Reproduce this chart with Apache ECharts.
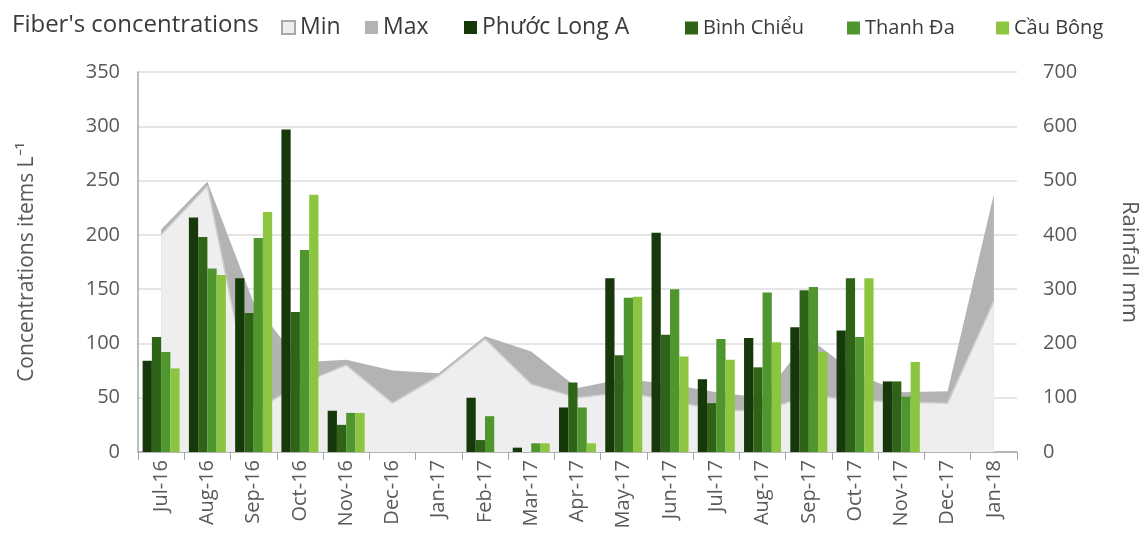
<!DOCTYPE html>
<html>
<head>
<meta charset="utf-8">
<script src="https://cdn.jsdelivr.net/npm/echarts@6/dist/echarts.min.js"></script>
<style>
  html, body { margin: 0; padding: 0; background: #fff; }
  #chart { width: 1148px; height: 547px; }
</style>
</head>
<body>
<div id="chart"></div>
<script>
// months
var months = ['Jul-16','Aug-16','Sep-16','Oct-16','Nov-16','Dec-16','Jan-17','Feb-17','Mar-17','Apr-17',
              'May-17','Jun-17','Jul-17','Aug-17','Sep-17','Oct-17','Nov-17','Dec-17','Jan-18'];

// rainfall (mm), right axis
var rainMax = [410, 498, 275, 165, 170, 150, 145, 213, 185, 118, 135, 125, 110, 100, 210, 145, 110, 112, 475];
var rainMin = [400, 490, 75, 125, 160, 90, 140, 208, 125, 100, 110, 95, 78, 75, 105, 95, 92, 90, 278];

// fiber concentrations (items/L), left axis
var phuocLongA = [84, 216, 160, 297, 38, null, null, 50, 4, 41, 160, 202, 67, 105, 115, 112, 65, null, null];
var binhChieu  = [106, 198, 128, 129, 25, null, null, 11, 0, 64, 89, 108, 45, 78, 149, 160, 65, null, null];
var thanhDa    = [92, 169, 197, 186, 36, null, null, 33, 8, 41, 142, 150, 104, 147, 152, 106, 51, null, null];
var cauBong    = [77, 163, 221, 237, 36, null, null, 0, 8, 8, 143, 88, 85, 101, 92, 160, 83, null, null];

var leftTicks = [0, 50, 100, 150, 200, 250, 300, 350];
var rightTicks = [0, 100, 200, 300, 400, 500, 600, 700];

var FONT = 'Open Sans';
var txt = '#595959';

var myChart = echarts.init(document.getElementById('chart'));

function barSeries(name, color, data) {
    return {
        name: name,
        type: 'bar',
        yAxisIndex: 0,
        barGap: '0%',
        barCategoryGap: '20%',
        itemStyle: { color: color },
        data: data,
        z: 5
    };
}

// one legend per item so each sits where it does in the original
function legendAt(name, left, size, top) {
    return {
        data: [{ name: name, icon: 'rect' }],
        left: left,
        top: top,
        itemWidth: 13,
        itemHeight: 13,
        padding: 0,
        textStyle: { fontFamily: FONT, fontSize: size, color: '#3a3a3a' }
    };
}

var option = {
    animation: false,
    backgroundColor: '#fff',
    title: {
        text: "Fiber's concentrations",
        left: 12,
        top: 13,
        padding: 0,
        textStyle: { fontFamily: FONT, fontSize: 24, fontWeight: 'normal', color: '#3a3a3a' }
    },
    legend: [
        legendAt('Min', 281, 23, 16),
        legendAt('Max', 365, 23, 16),
        legendAt('Phước Long A', 464, 23, 16),
        legendAt('Bình Chiểu', 685, 20, 18),
        legendAt('Thanh Đa', 847, 20, 18),
        legendAt('Cầu Bông', 996, 20, 18)
    ],
    grid: { left: 138, right: 126, top: 72, bottom: 95 },
    xAxis: {
        type: 'category',
        data: months,
        boundaryGap: true,
        axisLine: { lineStyle: { color: '#a6a6a6', width: 1.5 } },
        axisTick: { show: true, length: 8, lineStyle: { color: '#a6a6a6' } },
        axisLabel: {
            rotate: 90, interval: 0, margin: 8,
            fontFamily: FONT, fontSize: 20, color: txt
        }
    },
    yAxis: [
        {
            type: 'value',
            min: 0, max: 350, interval: 50,
            name: 'Concentrations items L⁻¹',
            nameLocation: 'middle',
            nameRotate: 90,
            nameGap: 100,
            nameTextStyle: { fontFamily: FONT, fontSize: 21, color: txt },
            axisLine: { show: true, lineStyle: { color: '#a6a6a6', width: 1.5 } },
            axisTick: { show: false },
            axisLabel: {
                fontFamily: FONT, fontSize: 20, color: txt, margin: 18,
                formatter: function (v) { return leftTicks.indexOf(v) >= 0 ? String(v) : ''; }
            },
            splitLine: { lineStyle: { color: '#dcdcdc', width: 1.5 } }
        },
        {
            type: 'value',
            min: 0, max: 700, interval: 100,
            position: 'right',
            name: 'Rainfall mm',
            nameLocation: 'middle',
            nameRotate: -90,
            nameGap: 101,
            nameTextStyle: { fontFamily: FONT, fontSize: 22, color: txt },
            axisLine: { show: false },
            axisTick: { show: false },
            axisLabel: {
                fontFamily: FONT, fontSize: 20, color: txt, margin: 26,
                formatter: function (v) { return rightTicks.indexOf(v) >= 0 ? String(v) : ''; }
            },
            splitLine: { show: false }
        }
    ],
    series: [
        {
            name: 'Max',
            type: 'line',
            yAxisIndex: 1,
            symbol: 'none',
            lineStyle: { width: 0, color: '#b3b3b3' },
            areaStyle: { color: '#b3b3b3', opacity: 1 },
            itemStyle: { color: '#b3b3b3' },
            data: rainMax,
            z: 2
        },
        {
            name: 'Min',
            type: 'line',
            yAxisIndex: 1,
            symbol: 'none',
            lineStyle: { width: 1.5, color: '#cfcfcf' },
            areaStyle: { color: '#eeeeee', opacity: 1 },
            itemStyle: { color: '#eeeeee', borderColor: '#a8a8a8', borderWidth: 1 },
            data: rainMin,
            z: 3
        },
        barSeries('Phước Long A', '#17380a', phuocLongA),
        barSeries('Bình Chiểu', '#2f6318', binhChieu),
        barSeries('Thanh Đa', '#4f962f', thanhDa),
        barSeries('Cầu Bông', '#8cc641', cauBong)
    ]
};

myChart.setOption(option);
</script>
</body>
</html>
